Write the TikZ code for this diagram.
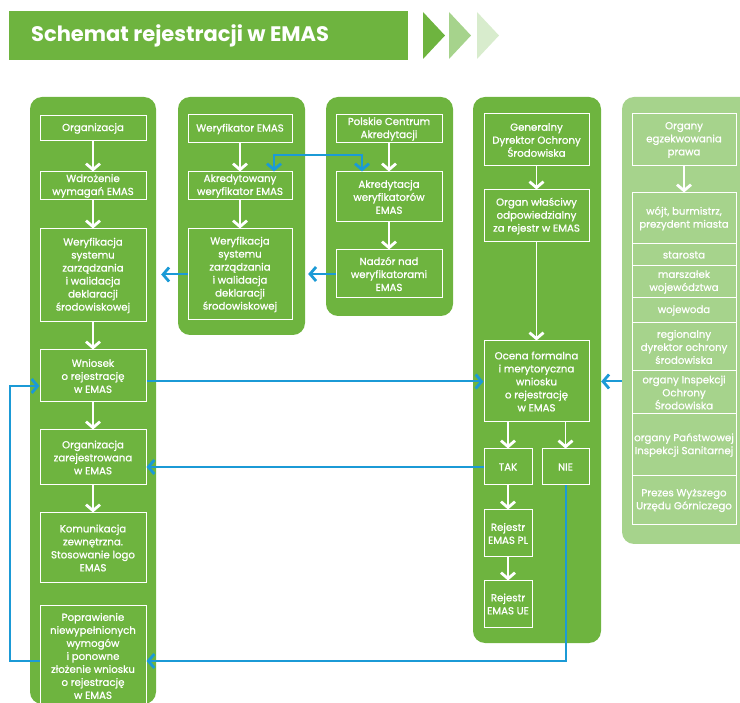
\documentclass[tikz,border=0pt]{standalone}
\usepackage{fontspec}
\setmainfont{Poppins}
\newfontfamily\boxfont{Poppins}[RawFeature={embolden=1.0}]
\usetikzlibrary{arrows.meta}

\definecolor{emasgreen}{HTML}{6EB43F}
\definecolor{emaslight}{HTML}{A6D38C}
\definecolor{emaspale}{HTML}{D8ECCD}
\definecolor{emasblue}{HTML}{1B9AD6}

\tikzset{panel/.style={draw=none,rounded corners=12pt,inner sep=0pt}}
\tikzset{stepbox/.style={draw=white,line width=1pt,text=white,align=center,inner sep=1pt,
    font=\boxfont\fontsize{10.2}{13}\selectfont}}
\tikzset{warrow/.style={->,white,line width=1.8pt}}
\tikzset{barrow/.style={emasblue,line width=2pt}}

\begin{document}
\begin{tikzpicture}[x=1pt,y=-1pt,>={Straight Barb[length=6pt,width=14pt,line width=2.8pt]}]
    \useasboundingbox (0,0) rectangle (740,703);
    \clip (0,0) rectangle (740,703);
    % title bar
    \node[fill=emasgreen,minimum width=399,minimum height=49,inner sep=0pt,anchor=north west] (banner) at (9,11) {};
    \node[anchor=west,text=white,inner sep=0pt,font=\fontsize{21}{21}\bfseries\selectfont] (title) at (31,35.5) {Schemat rejestracji w EMAS};
    \foreach \cx/\cc in {423/emasgreen,449/emaslight,477/emaspale}
        \fill[\cc] (\cx,12) -- ++(22,23.5) -- ++(-22,23.5) -- cycle;

    % panels
    \node[panel,fill=emasgreen,minimum width=126,minimum height=607] (pleft) at (93,400.5) {};
    \node[panel,fill=emasgreen,minimum width=127,minimum height=238] (pmid) at (241.5,216) {};
    \node[panel,fill=emasgreen,minimum width=127,minimum height=219] (ppca) at (389.5,206.5) {};
    \node[panel,fill=emasgreen,minimum width=128,minimum height=546] (pgdos) at (537,370) {};
    \node[panel,fill=emaslight,minimum width=138,minimum height=447] (porg) at (691,320.5) {};

    % organizacja
    \node[stepbox,minimum width=106,minimum height=25] (org) at (93,128.5) {Organizacja};
    \node[stepbox,minimum width=106,minimum height=28] (wdr) at (93,186) {Wdrożenie\\wymagań EMAS};
    \node[stepbox,minimum width=106,minimum height=93] (wer) at (93,275.5) {Weryfikacja\\systemu\\zarządzania\\i walidacja\\deklaracji\\środowiskowej};
    \node[stepbox,minimum width=106,minimum height=52] (wni) at (93,376) {Wniosek\\o rejestrację\\w EMAS};
    \node[stepbox,minimum width=106,minimum height=55] (zar) at (93,457.5) {Organizacja\\zarejestrowana\\w EMAS};
    \node[stepbox,minimum width=106,minimum height=70] (kom) at (93,548) {Komunikacja\\zewnętrzna.\\Stosowanie logo\\EMAS};
    \node[stepbox,minimum width=106,minimum height=100] (pop) at (93,656) {Poprawienie\\niewypełnionych\\wymogów\\i ponowne\\złożenie wniosku\\o rejestrację\\w EMAS};
    \draw[warrow] (org) -- (wdr);
    \draw[warrow] (wdr) -- (wer);
    \draw[warrow] (wer) -- (wni);
    \draw[warrow] (wni) -- (zar);
    \draw[warrow] (zar) -- (kom);

    % weryfikator
    \node[stepbox,minimum width=104,minimum height=28] (wemas) at (240,129) {Weryfikator EMAS};
    \node[stepbox,minimum width=104,minimum height=28] (akrw) at (240,186) {Akredytowany\\weryfikator EMAS};
    \node[stepbox,minimum width=104,minimum height=91] (wer2) at (240,274.5) {Weryfikacja\\systemu\\zarządzania\\i walidacja\\deklaracji\\środowiskowej};
    \draw[warrow] (wemas) -- (akrw);
    \draw[warrow] (akrw) -- (wer2);

    % akredytacja
    \node[stepbox,minimum width=106,minimum height=28] (pca) at (389,129) {Polskie Centrum\\Akredytacji};
    \node[stepbox,minimum width=106,minimum height=50] (akrd) at (389,197) {Akredytacja\\weryfikatorów\\EMAS};
    \node[stepbox,minimum width=106,minimum height=48] (nadz) at (389,274) {Nadzór nad\\weryfikatorami\\EMAS};
    \draw[warrow] (pca) -- (akrd);
    \draw[warrow] (akrd) -- (nadz);

    % rejestracja
    \node[stepbox,minimum width=105,minimum height=52] (gdos) at (536.5,140) {Generalny\\Dyrektor Ochrony\\Środowiska};
    \node[stepbox,minimum width=105,minimum height=52] (organ) at (536.5,216) {Organ właściwy\\odpowiedzialny\\za rejestr w EMAS};
    \node[stepbox,minimum width=105,minimum height=81] (ocena) at (536.5,381.5) {Ocena formalna\\i merytoryczna\\wniosku\\o rejestrację\\w EMAS};
    \node[stepbox,minimum width=48,minimum height=36] (tak) at (508,467) {TAK};
    \node[stepbox,minimum width=47,minimum height=36] (nie) at (565.5,467) {NIE};
    \node[stepbox,minimum width=48,minimum height=47] (rpl) at (508,533.5) {Rejestr\\EMAS PL};
    \node[stepbox,minimum width=48,minimum height=46] (rue) at (508,604) {Rejestr\\EMAS UE};
    \draw[warrow] (gdos) -- (organ);
    \draw[warrow] (organ) -- (ocena);
    \draw[warrow] (ocena.south -| tak) -- (tak);
    \draw[warrow] (ocena.south -| nie) -- (nie);
    \draw[warrow] (tak) -- (rpl);
    \draw[warrow] (rpl) -- (rue);

    % organy egzekwowania prawa
    \node[stepbox,minimum width=104,minimum height=52] (oep) at (684,140) {Organy\\egzekwowania\\prawa};
    \node[stepbox,minimum width=104,minimum height=51] (o1) at (684,218.5) {wójt, burmistrz,\\prezydent miasta};
    \node[stepbox,minimum width=104,minimum height=22] (o2) at (684,255) {starosta};
    \node[stepbox,minimum width=104,minimum height=32] (o3) at (684,282) {marszałek\\województwa};
    \node[stepbox,minimum width=104,minimum height=25] (o4) at (684,310.5) {wojewoda};
    \node[stepbox,minimum width=104,minimum height=48] (o5) at (684,347) {regionalny\\dyrektor ochrony\\środowiska};
    \node[stepbox,minimum width=104,minimum height=43] (o6) at (684,392.5) {organy Inspekcji\\Ochrony\\Środowiska};
    \node[stepbox,minimum width=104,minimum height=62] (o7) at (684,445) {organy Państwowej\\Inspekcji Sanitarnej};
    \node[stepbox,minimum width=104,minimum height=49] (o8) at (684,500.5) {Prezes Wyższego\\Urzędu Górniczego};
    \draw[warrow] (oep) -- (o1);

    % blue connections
    \coordinate (loopL) at (10,661);
    \coordinate (loopT) at (10,386);
    \draw[barrow,->] (wer2.west) -- ([xshift=5pt]pleft.east |- wer2.west);
    \draw[barrow,->] (nadz.west) -- ([xshift=3pt]pmid.east |- nadz.west);
    \draw[barrow,<->] ([xshift=34pt]akrw.north) -- ++(0,-16) -| ([xshift=-27pt]akrd.north);
    \draw[barrow,->] (wni.east |- ocena.west) -- (ocena.west);
    \draw[barrow,->] (tak.west) -- (tak.west -| zar.east);
    \draw[barrow,->] (nie.south) |- (loopL -| pop.east);
    \draw[barrow,->] (loopL -| pop.west) -- (loopL) -- (loopT) -- (loopT -| wni.west);
    \draw[barrow,->] (porg.west |- ocena.east) -- (pgdos.east |- ocena.east);
\end{tikzpicture}
\end{document}
